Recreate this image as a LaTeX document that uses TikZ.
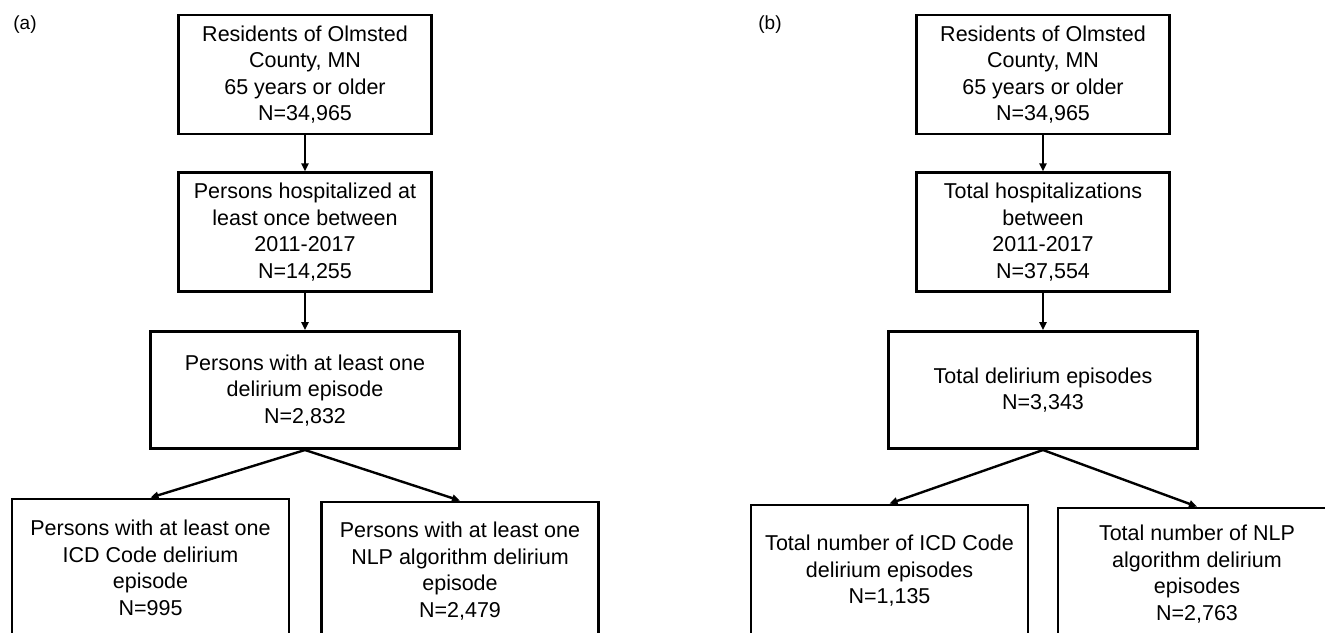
\documentclass[tikz,border=0pt]{standalone}
\usepackage{fontspec}
\setmainfont{Liberation Sans}
\usetikzlibrary{arrows.meta, positioning}

\begin{document}
\begin{tikzpicture}[x=1pt, y=-1pt, font=\fontsize{21.5}{26.5}\selectfont]
    \tikzstyle{stage} = [rectangle, draw=black, line width=2.8pt, inner sep=0pt, align=center,
      minimum width=253pt, minimum height=119pt]
    \tikzstyle{wide} = [stage, minimum width=309pt, minimum height=117pt]
    \tikzstyle{split} = [stage, minimum width=277pt, minimum height=138pt]
    \tikzstyle{flow} = [-{Triangle[length=8pt, width=7pt]}, line width=2.4pt]
    \tikzstyle{panel} = [font=\fontsize{19}{23}\selectfont]

    \useasboundingbox (0,0) rectangle (1325,632);
    \clip (0,0) rectangle (1325,632);

    \node (lbla) [panel] at (25,25) {(a)};
    \node (resa) [stage] at (305,74.5) {Residents of Olmsted\\County, MN\\65 years or older\\N=34,965};
    \node (hospa) [stage, below=36pt of resa] {Persons hospitalized at\\least once between\\2011-2017\\N=14,255};
    \node (dela) [wide, below=37pt of hospa] {Persons with at least one\\delirium episode\\N=2,832};
    \node (icda) [split] at (150.5,568) {Persons with at least one\\ICD Code delirium\\episode\\N=995};
    \node (nlpa) [split] at (460,571) {Persons with at least one\\NLP algorithm delirium\\episode\\N=2,479};

    \draw [flow] (resa.south) -- (hospa.north);
    \draw [flow] (hospa.south) -- (dela.north);
    \draw [flow] (dela.south) -- (icda.north);
    \draw [flow] (dela.south) -- (nlpa.north);

    \node (lblb) [panel] at (770,25) {(b)};
    \node (resb) [stage] at (1043,74.5) {Residents of Olmsted\\County, MN\\65 years or older\\N=34,965};
    \node (hospb) [stage, below=36pt of resb] {Total hospitalizations\\between\\2011-2017\\N=37,554};
    \node (delb) [wide, below=37pt of hospb] {Total delirium episodes\\N=3,343};
    \node (icdb) [split, minimum height=132pt] at (889.5,571) {Total number of ICD Code\\delirium episodes\\N=1,135};
    \node (nlpb) [split, minimum height=132pt, minimum width=278pt] at (1197,574) {Total number of NLP\\algorithm delirium\\episodes\\N=2,763};

    \draw [flow] (resb.south) -- (hospb.north);
    \draw [flow] (hospb.south) -- (delb.north);
    \draw [flow] (delb.south) -- (icdb.north);
    \draw [flow] (delb.south) -- (nlpb.north);
\end{tikzpicture}
\end{document}
